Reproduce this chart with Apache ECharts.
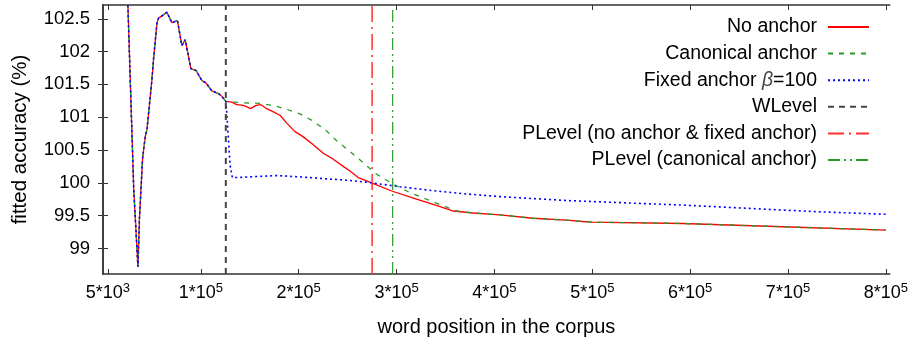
<!DOCTYPE html>
<html><head><meta charset="utf-8">
<script src="https://cdn.jsdelivr.net/npm/echarts@6/dist/echarts.min.js"></script>
<style>html,body{margin:0;padding:0;background:#fff}#c{width:911px;height:342px}</style>
</head><body><div id="c"></div>
<script>
// ---- data ----
var xTickValues = [5000, 100000, 200000, 300000, 400000, 500000, 600000, 700000, 800000];
var xTickLabels = ['5*10^3', '1*10^5', '2*10^5', '3*10^5', '4*10^5', '5*10^5', '6*10^5', '7*10^5', '8*10^5'];
var yTickValues = [99, 99.5, 100, 100.5, 101, 101.5, 102, 102.5];
var yTickLabels = ['99', '99.5', '100', '100.5', '101', '101.5', '102', '102.5'];
var xRange = [0, 804000];
var yRange = [98.61, 102.71];

// shared early part (all three fits coincide before WLevel)
var earlyX = [24300, 31400, 35700, 37300, 40400, 43200, 44900, 50000, 51600, 55100, 56700, 61800, 65300, 66900, 70400, 73800, 76100, 80600, 84000, 85700, 89800, 95200, 101000, 105400, 111200, 118000, 121400, 125500];
var earlyY = [103.24, 99.90, 98.72, 99.47, 100.36, 100.71, 100.81, 101.57, 101.88, 102.43, 102.51, 102.56, 102.60, 102.57, 102.44, 102.46, 102.47, 102.09, 102.18, 102.20, 101.74, 101.71, 101.56, 101.52, 101.40, 101.36, 101.32, 101.24];

var noAnchorX = [131600, 136700, 143500, 151000, 156400, 161500, 167300, 174100, 180900, 187800, 196200, 204700, 214900, 225100, 235300, 245500, 252300, 260800, 274500, 294900, 320400, 337300, 347600, 357800, 378200, 405400, 439400, 473500, 490400, 500000, 592400, 694500, 800000];
var noAnchorY = [101.23, 101.19, 101.18, 101.13, 101.18, 101.19, 101.13, 101.08, 101.03, 100.91, 100.78, 100.70, 100.58, 100.45, 100.36, 100.25, 100.18, 100.08, 100.00, 99.875, 99.75, 99.67, 99.62, 99.57, 99.54, 99.51, 99.46, 99.43, 99.41, 99.40, 99.38, 99.33, 99.28];

var canonX = [131600, 143500, 160500, 174100, 187800, 201300, 214900, 228600, 238800, 252300, 279600, 296500, 313600, 337300, 361200, 378200, 405400, 439400, 473500, 490400, 500000, 592400, 694500, 800000];
var canonY = [101.23, 101.22, 101.21, 101.18, 101.12, 101.05, 100.94, 100.79, 100.64, 100.48, 100.13, 99.98, 99.85, 99.71, 99.57, 99.54, 99.51, 99.46, 99.43, 99.41, 99.40, 99.38, 99.33, 99.28];

var fixedX = [126500, 128200, 129900, 132200, 136700, 150300, 177600, 201300, 228600, 249000, 274500, 303400, 337300, 371400, 405400, 439400, 473500, 524500, 592400, 660500, 728600, 800000];
var fixedY = [101.07, 100.66, 100.26, 100.08, 100.08, 100.09, 100.11, 100.09, 100.06, 100.04, 100.00, 99.94, 99.88, 99.83, 99.79, 99.76, 99.73, 99.70, 99.66, 99.61, 99.56, 99.52];

var wLevelX = 125500;
var pLevelNoAnchorX = 275000;
var pLevelCanonX = 296000;

var seriesNames = ['No anchor', 'Canonical anchor', 'Fixed anchor \u03b2=100', 'WLevel', 'PLevel (no anchor & fixed anchor)', 'PLevel (canonical anchor)'];

// ---- build ----
function pairs(xs, ys) { var o = []; for (var i = 0; i < xs.length; i++) o.push([xs[i], ys[i]]); return o; }
function withEarly(xs, ys) { return pairs(earlyX.concat(xs), earlyY.concat(ys)); }
function vline(x) { return [[x, yRange[0]], [x, yRange[1]]]; }

var FONT = '"Liberation Sans", Arial, Helvetica, sans-serif';
var AX = '#333';

var chart = echarts.init(document.getElementById('c'), null, {renderer: 'canvas'});
function lineSeries(name, data, color, width, type, z) {
  return {
    name: name, type: 'line', data: data, symbol: 'none', showSymbol: false,
    xAxisIndex: 0, yAxisIndex: 0, animation: false, silent: true, z: z,
    lineStyle: {color: color, width: width, type: type},
    itemStyle: {color: color}
  };
}
var option = {
  animation: false,
  textStyle: {fontFamily: FONT},
  grid: {left: 103, top: 5, width: 788, height: 270, containLabel: false},
  legend: {
    orient: 'vertical', align: 'right', right: 41, top: 17, padding: 0,
    itemWidth: 41, itemHeight: 10, itemGap: 6.6,
    selectedMode: false,
    itemStyle: {color: 'rgba(0,0,0,0)', borderWidth: 0, opacity: 0},
    formatter: function (name) { return name.replace('\u03b2', '{i|\u03b2}'); },
    textStyle: {
      fontFamily: FONT, fontSize: 19.5, color: '#000', lineHeight: 20, padding: [0, 6, 0, 0],
      rich: {i: {fontFamily: FONT, fontSize: 19.5, fontStyle: 'italic', color: '#444', lineHeight: 20}}
    },
    data: seriesNames.slice()
  },
  xAxis: [{
    type: 'value', min: xRange[0], max: xRange[1], position: 'bottom',
    name: 'word position in the corpus', nameLocation: 'middle', nameGap: 43,
    nameTextStyle: {fontFamily: FONT, fontSize: 20, color: '#000'},
    axisLine: {show: true, lineStyle: {color: AX, width: 1.5}},
    axisTick: {show: true, inside: true, length: 5, customValues: xTickValues, lineStyle: {color: AX, width: 1}},
    axisLabel: {
      show: true, customValues: xTickValues, margin: 8, color: '#000',
      formatter: function (v) {
        var i = xTickValues.indexOf(v);
        var s = i >= 0 ? xTickLabels[i] : '';
        var m = s.match(/^(.*)\^(\d+)$/);
        return m ? '{b|' + m[1] + '}{s|' + m[2] + '}' : '{b|' + s + '}';
      },
      rich: {
        b: {fontFamily: FONT, fontSize: 18, lineHeight: 22, color: '#000'},
        s: {fontFamily: FONT, fontSize: 13, lineHeight: 14, verticalAlign: 'top', color: '#000'}
      }
    },
    splitLine: {show: false}
  }, {
    type: 'value', min: xRange[0], max: xRange[1], position: 'top',
    axisLine: {show: true, lineStyle: {color: AX, width: 1.5}},
    axisTick: {show: true, inside: true, length: 5, customValues: xTickValues, lineStyle: {color: AX, width: 1}},
    axisLabel: {show: false}, splitLine: {show: false}
  }],
  yAxis: [{
    type: 'value', min: yRange[0], max: yRange[1], position: 'left',
    name: 'fitted accuracy (%)', nameLocation: 'middle', nameGap: 72, nameRotate: 90,
    nameTextStyle: {fontFamily: FONT, fontSize: 20.5, color: '#000'},
    axisLine: {show: true, lineStyle: {color: AX, width: 1.5}},
    axisTick: {show: true, inside: true, length: 5, customValues: yTickValues, lineStyle: {color: AX, width: 1}},
    axisLabel: {
      show: true, customValues: yTickValues, margin: 13, color: '#000', fontFamily: FONT, fontSize: 18.5,
      formatter: function (v) {
        for (var i = 0; i < yTickValues.length; i++) if (Math.abs(yTickValues[i] - v) < 1e-9) return yTickLabels[i];
        return '';
      }
    },
    splitLine: {show: false}
  }, {
    type: 'value', min: yRange[0], max: yRange[1], position: 'right',
    axisLine: {show: true, lineStyle: {color: AX, width: 1.5}},
    axisTick: {show: true, inside: true, length: 5, customValues: yTickValues, lineStyle: {color: AX, width: 1}},
    axisLabel: {show: false}, splitLine: {show: false}
  }],
  series: [
    lineSeries(seriesNames[0], withEarly(noAnchorX, noAnchorY), '#ff0000', 1.3, 'solid', 2),
    lineSeries(seriesNames[1], withEarly(canonX, canonY), '#2a9a2a', 1.3, [5, 6], 3),
    lineSeries(seriesNames[2], withEarly(fixedX, fixedY), '#0000ff', 1.6, [2, 3], 4),
    lineSeries(seriesNames[3], vline(wLevelX), '#444444', 2, [6, 5], 5),
    lineSeries(seriesNames[4], vline(pLevelNoAnchorX), '#ff3030', 1.5, [16, 5, 2, 5], 5),
    lineSeries(seriesNames[5], vline(pLevelCanonX), '#2a9a2a', 1.2, [12, 4, 2, 4, 2, 4], 5)
  ]
};
chart.setOption(option);
</script>
</body></html>
